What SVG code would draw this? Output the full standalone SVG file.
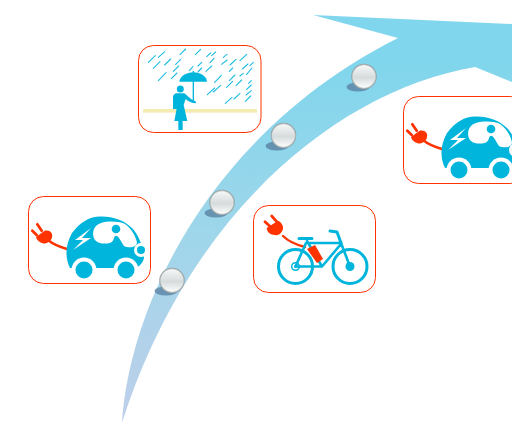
<svg xmlns="http://www.w3.org/2000/svg" xmlns:xlink="http://www.w3.org/1999/xlink" width="512" height="423" viewBox="0 0 512 423">
<style>
.frame{fill:#fff;stroke:#ff3300;stroke-width:1}
.blue{fill:#00b5dc}
.red{fill:#ff3300}
.white{fill:#fff}
.cord{fill:none;stroke:#ff3300;stroke-width:2.4;stroke-linecap:round}
.prong{fill:none;stroke:#ff3300;stroke-width:2.8;stroke-linecap:round}
.rain{fill:none;stroke:#22bde0;stroke-width:3.4;stroke-linecap:round}
.bk{fill:none;stroke:#00b5dc;stroke-width:2.6;stroke-linecap:round;stroke-linejoin:round}
.shadow{fill:#5d87a8;opacity:.85}
</style>
<defs>
<linearGradient id="arrowFill" gradientUnits="userSpaceOnUse" x1="0" y1="60" x2="0" y2="423">
<stop offset="0" stop-color="#80d6ec"/><stop offset=".5" stop-color="#a0d6ea"/><stop offset="1" stop-color="#bfcfea"/>
</linearGradient>
<radialGradient id="ballEdge" cx=".5" cy=".5" r=".5">
<stop offset="0" stop-color="#e8ecec"/><stop offset=".85" stop-color="#e2e6e6"/><stop offset="1" stop-color="#8c9698"/>
</radialGradient>
<linearGradient id="ballFace" x1="0" y1="0" x2="0" y2="1">
<stop offset="0" stop-color="#f6f7f7"/><stop offset=".55" stop-color="#d6dbdb"/><stop offset="1" stop-color="#fbfcfc"/>
</linearGradient>
<g id="ball">
<circle r="12.7" fill="url(#ballEdge)"/>
<circle r="11" fill="url(#ballFace)"/>
</g>
<g id="plug">
<path class="cord" d="M48 240C54 245 60 247 67 249"/>
<path class="prong" d="M41.700 230.700L37.300 224.300M36.700 235L32.300 230.700"/>
<path class="red" d="M45 230.500L36 237C37 241 41 243.500 45 243.500C50 243 53 238 52 234C51 231 48 230 45 230.500Z"/>
</g>
<g id="car">
<use xlink:href="#plug"/>
<path class="blue" d="M70 268C65 258 65 245 72 233C80 222 90 216.500 100 216.500C112 216 124 220 132 228C139 235 143 247 144 258C143 263 139 267 135 268L70 268Z"/>
<circle class="white" cx="84" cy="270" r="12.500"/>
<circle class="white" cx="126" cy="270" r="12.500"/>
<circle class="blue" cx="84" cy="270" r="8.500"/>
<circle class="blue" cx="126" cy="270" r="8.500"/>
<path class="white" d="M93.500 237C92 230 95 225 101 223C108 221 118 221 125 224C131 228 136 236 137 243C136 247 131 248 127 247C123 247 122 242 119 238C117 235 115 235 114 238C113 243 108 244 104 243.500C100 243.500 95 242 93.500 237Z"/>
<circle class="blue" cx="116" cy="229" r="4.300"/>
<path class="white" d="M91 228L75 240L83 240L73 250L91 238L82 238Z"/>
<circle class="white" cx="141" cy="250" r="7"/>
<circle class="blue" cx="141" cy="250" r="4"/>
</g>
</defs>
<g id="connectors">
<path id="growth-arrow" fill="url(#arrowFill)" d="M122 423C130 300 215 130 398 38L313 15L512 24L512 82L475 67C340 90 190 210 122 423Z"/>
</g>
<g id="ball-1"><ellipse class="shadow" cx="166" cy="291" rx="11.500" ry="4.500"/><use xlink:href="#ball" x="172" y="280.500"/></g>
<g id="ball-2"><ellipse class="shadow" cx="216" cy="213" rx="11.500" ry="4.500"/><use xlink:href="#ball" x="222" y="202.500"/></g>
<g id="ball-3"><ellipse class="shadow" cx="277" cy="146" rx="11.500" ry="4.500"/><use xlink:href="#ball" x="283.500" y="135.500"/></g>
<g id="ball-4"><ellipse class="shadow" cx="358" cy="87" rx="11.500" ry="4.500"/><use xlink:href="#ball" x="364" y="76.500"/></g>
<g id="node-rain">
<rect class="frame" x="138.500" y="45.500" width="122.500" height="87" rx="15"/>
<g transform="translate(130 40) scale(.3333)">
<path class="rain" d="M55 67L76 47M85 52L104 35M70 85L90 65M104 75L122 57M150 44L167 27M196 44L212 28M230 50L242 39M245 47L257 36M280 52L291 43M275 73L291 60M330 62L350 43M300 75L318 58M240 68L252 55M137 73L152 58M130 94L146 78M85 122L108 98M124 116L141 99M178 92L189 80M204 78L215 67M228 94L245 78M204 96L215 84M337 87L354 72M360 77L370 67M298 94L308 84M330 108L340 100M350 103L366 84M298 122L315 105M254 127L274 106M290 142L308 124M318 137L335 120M232 164L254 144M250 156L272 136M356 130L364 122M350 148L364 135M348 165L364 152M346 184L362 168M286 190L306 172M312 177L330 160"/>
<rect x="39" y="207" width="342" height="11" fill="#f3ebb2"/>
<path class="blue" d="M148 125C150 108 170 97 190 97C210 97 230 108 231 125Z"/>
<path fill="none" stroke="#00b5dc" stroke-width="4" d="M190 93L190 188"/>
<circle class="blue" cx="151" cy="147" r="10.500"/>
<path class="blue" d="M138 160L163 160C171 165 180 178 197 184L198 190C186 190 174 184 167 177L161 195L172 243L158 243L158 270L145 270L145 243L133 243L142 195L141 207L129 207L129 172C129 166 132 162 138 160Z"/>
</g>
</g>
<g id="node-car-left">
<rect class="frame" x="28.500" y="196.500" width="122" height="87" rx="15"/>
<use xlink:href="#car"/>
</g>
<g id="node-bike">
<rect class="frame" x="253.500" y="205.500" width="122" height="87" rx="15"/>
<path class="cord" d="M283 236C289 242 297 245 305 247"/>
<path class="prong" d="M265 221.700L270.700 227M271.700 216L276.700 221.700"/>
<path class="red" d="M266.700 228L278 220.700C281 222 283.500 225 283 229C282 233 278 236 275 235C270 235 267 232 266.700 228Z"/>
<g class="bk">
<circle cx="295.500" cy="266.500" r="17" stroke-width="3"/>
<circle cx="350" cy="266.500" r="17" stroke-width="3"/>
<path d="M295.500 266.500L322 266.500L341 244L341 243L306 243L295.500 266.500M307 241L322 266.500M341 243L350 266.500"/>
<path stroke-width="3" d="M299 238.500L312 238.500M330 231L337 232L341 243"/>
<circle cx="295.500" cy="266.500" r="3.800" stroke-width="1.500"/>
</g>
<circle class="blue" cx="295.500" cy="266.500" r="1.500"/>
<circle class="blue" cx="350" cy="266.500" r="4.500"/>
<path class="red" d="M307 249L315 245L323 259L317 263Z"/>
</g>
<g id="node-car-right">
<rect class="frame" x="403.500" y="96.500" width="122" height="87" rx="15"/>
<use xlink:href="#car" x="375" y="-100"/>
</g>
</svg>
